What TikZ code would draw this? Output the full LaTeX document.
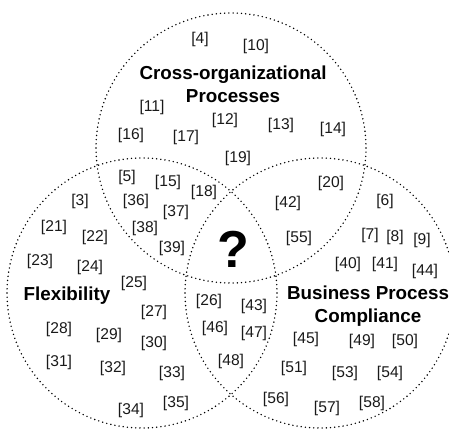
\documentclass[tikz,border=0pt]{standalone}
\usepackage{fontspec}
\setmainfont{Liberation Sans}
\begin{document}
\begin{tikzpicture}[x=1pt,y=-1pt,
  venn/.style={circle, draw=black, line width=1.6pt, dash pattern=on 0pt off 4.2pt, line cap=round, minimum size=270pt, inner sep=0pt},
  ref/.style={inner sep=0pt, font=\fontsize{15.6}{18}\selectfont, text=black!90},
  title/.style={inner sep=0pt, align=center, font=\bfseries\fontsize{18.8}{23}\selectfont},
  qmark/.style={inner sep=0pt, font=\bfseries\fontsize{52}{52}\selectfont}]
\useasboundingbox (0,0) rectangle (449,428);
\clip (0,0) rectangle (449,428);
\node[venn] (C) at (231,148) {};
\node[venn] (F) at (142,293) {};
\node[venn] (B) at (320,293) {};
\node[title] (tC) at (233,84) {Cross-organizational\\Processes};
\node[title] (tF) at (67,296) {Flexibility};
\node[title] (tB) at (368,306) {Business Process\\Compliance};
\node[qmark] (q) at (233,249) {?};
\foreach \n/\x/\y in {
  4/200/39, 10/256/46, 11/152/107, 12/225/120, 13/281/125, 14/333/129,
  16/131/135, 17/186/137, 19/238/158, 5/127/177, 15/168/182, 18/204/192,
  20/331/183, 3/80/201, 36/136/201, 42/288/203, 6/385/201, 37/176/212,
  21/54/227, 22/95/237, 38/145/228, 39/172/248, 55/299/238,
  7/370/235, 8/395/237, 9/422/240, 23/40/261, 24/90/267,
  40/348/264, 41/385/264, 44/425/271, 25/134/283,
  26/209/301, 43/254/306, 27/154/312, 28/59/329, 29/109/335,
  46/215/328, 47/254/333, 45/306/339, 49/362/341, 50/405/341,
  30/154/343, 31/59/362, 32/113/368, 48/231/361, 51/294/368,
  53/345/373, 54/390/373, 33/172/373, 34/131/410, 35/176/403,
  56/276/399, 57/327/408, 58/372/403}
  \node[ref] (l\n) at (\x,\y) {[\n]};
\end{tikzpicture}
\end{document}
